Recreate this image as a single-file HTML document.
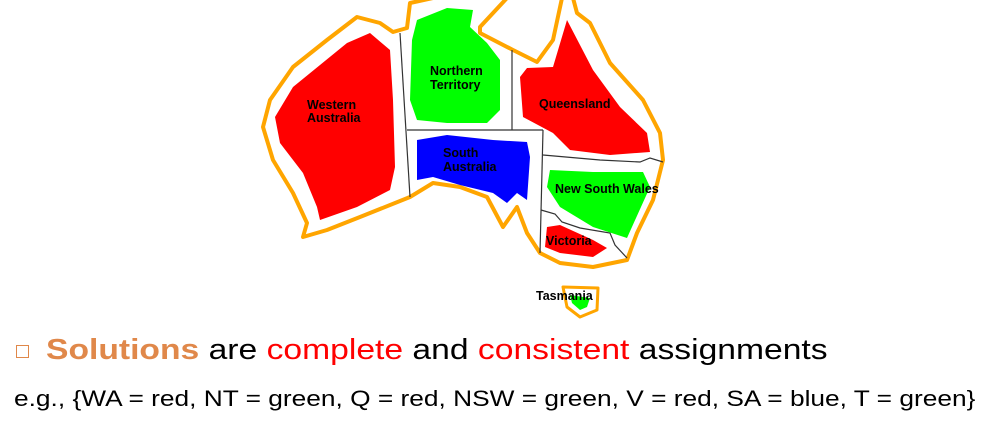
<!DOCTYPE html>
<html><head><meta charset="utf-8"><style>
html,body{margin:0;padding:0;background:#fff;width:984px;height:430px;overflow:hidden}
svg{position:absolute;left:0;top:0}
.lbl{font-family:"Liberation Sans",Arial,sans-serif;font-weight:bold;font-size:12.5px;fill:#000}
.t{position:absolute;font-family:"Liberation Sans",sans-serif;white-space:nowrap;transform-origin:0 50%}
</style></head><body>
<svg width="984" height="320">
<polygon fill="none" stroke="#ffa500" stroke-width="4" stroke-linejoin="round" points="393,32 407,28 410,3 433,-2 507,-2 480,27 480,33 513,50 537,62 553,40 562,-2 573,-2 577,13 590,23 610,63 643,100 660,133 663,160 653,200 637,233 627,260 593,267 560,263 540,253 527,233 517,207 503,227 487,197 460,187 433,183 410,197 360,217 327,230 303,237 307,223 293,193 273,160 263,127 270,100 293,67 327,40 357,17 380,23"/>
<g stroke="#333" stroke-width="1.2" fill="none">
<line x1="400" y1="33" x2="410" y2="197"/>
<line x1="407" y1="130" x2="543" y2="130"/>
<line x1="512" y1="50" x2="512" y2="130"/>
<line x1="543" y1="130" x2="540" y2="253"/>
<polyline points="543,155 600,160 640,162 650,158 663,162"/>
<polyline points="541,210 555,214 562,222 580,228 610,233 615,245 627,258"/>
</g>
<polygon fill="#ff0000" points="320,220 357,207 390,190 395,167 393,100 390,50 370,33 347,43 293,87 275,117 280,143 303,173 317,207"/>
<polygon fill="#00ff00" points="417,20 447,8 473,10 470,27 487,43 500,60 500,110 487,123 447,123 417,120 410,100 412,40"/>
<polygon fill="#0000ff" points="417,140 447,135 493,140 527,142 530,157 527,200 517,193 507,203 493,193 460,185 433,177 417,180"/>
<polygon fill="#ff0000" points="567,20 593,70 620,107 647,133 650,152 610,155 570,150 553,133 523,117 520,77 527,68 553,67"/>
<polygon fill="#00ff00" points="550,170 593,172 643,172 650,187 627,238 593,227 560,207 547,187"/>
<polygon fill="#ff0000" points="547,227 560,225 593,240 607,248 593,257 560,253 545,247"/>
<polygon fill="none" stroke="#ffa500" stroke-width="3" stroke-linejoin="round" points="563,287 598,288 597,310 580,317 567,307"/>
<polygon fill="#00ff00" points="570,295 590,298 587,307 580,310 572,303"/>
<text class="lbl" x="307" y="109">Western</text>
<text class="lbl" x="307" y="122">Australia</text>
<text class="lbl" x="430" y="75">Northern</text>
<text class="lbl" x="430" y="89">Territory</text>
<text class="lbl" x="539" y="108">Queensland</text>
<text class="lbl" x="443" y="157">South</text>
<text class="lbl" x="443" y="171">Australia</text>
<text class="lbl" x="555" y="193">New South Wales</text>
<text class="lbl" x="546" y="245">Victoria</text>
<text class="lbl" x="536" y="300">Tasmania</text>
</svg>
<div style="position:absolute;left:16px;top:345px;width:11px;height:11px;border:1.5px solid #e0884a"></div>
<div class="t" style="left:46px;top:334px;font-size:29px;transform:scaleX(1.16)">
<b style="color:#e0884a">Solutions</b> <span>are</span> <span style="color:#ff0000">complete</span> <span>and</span> <span style="color:#ff0000">consistent</span> <span>assignments</span></div>
<div class="t" style="left:14px;top:386px;font-size:22px;transform:scaleX(1.195)">e.g., {WA = red, NT = green, Q = red, NSW = green, V = red, SA = blue, T = green}</div>
</body></html>
